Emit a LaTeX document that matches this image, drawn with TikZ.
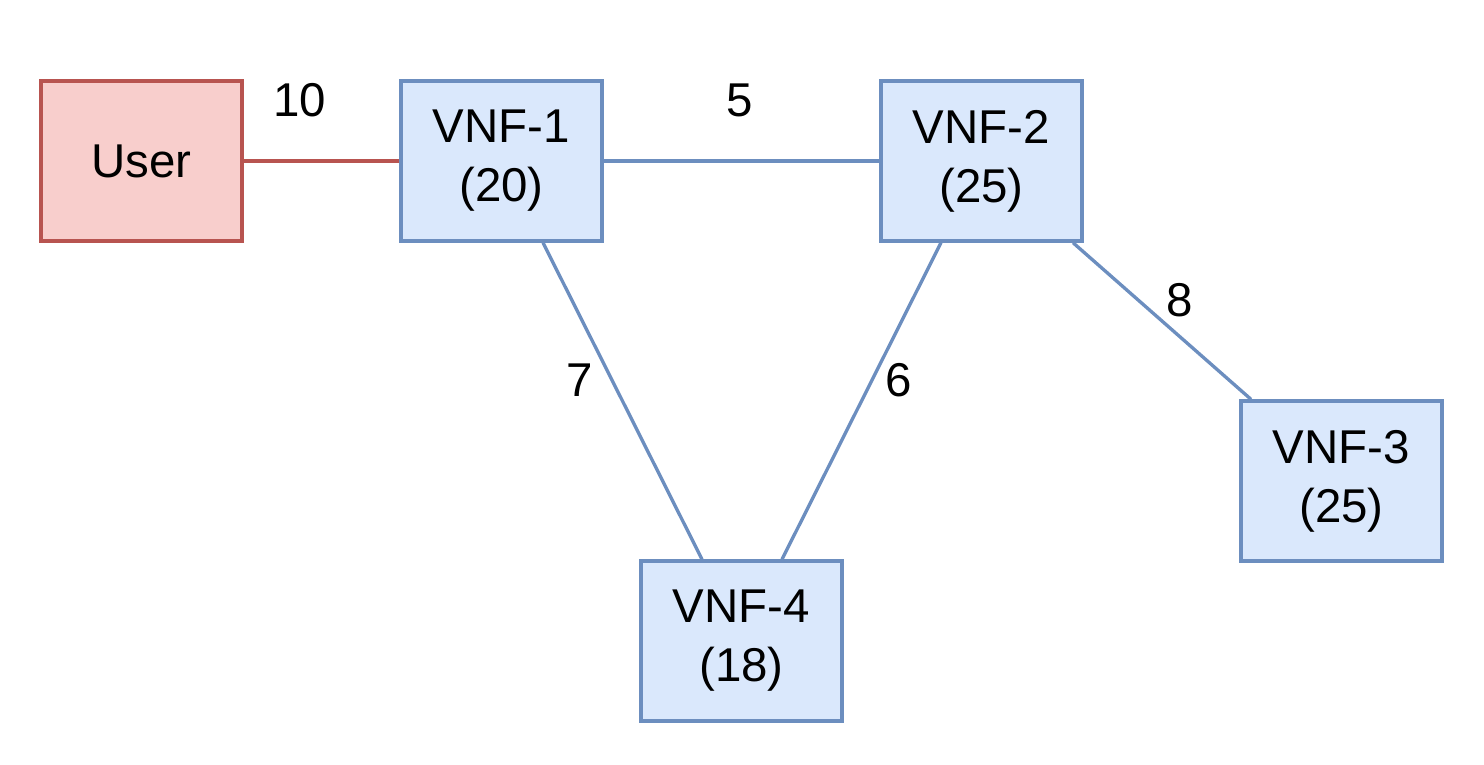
\documentclass[tikz,border=0pt]{standalone}
\usepackage{fontspec}
\setmainfont{Liberation Sans}
\usetikzlibrary{positioning}
\definecolor{vnffill}{HTML}{DAE8FC}
\definecolor{vnfline}{HTML}{6C8EBF}
\definecolor{userfill}{HTML}{F8CECC}
\definecolor{userline}{HTML}{B85450}
\tikzset{every picture/.style={line width=0.95pt}}
\tikzset{vnf/.style={draw=vnfline, fill=vnffill, minimum width=2.01cm, minimum height=1.6cm, align=center, font=\fontsize{13.5}{16.8}\selectfont}}
\tikzset{usr/.style={draw=userline, fill=userfill, minimum width=2.01cm, minimum height=1.6cm, font=\fontsize{13.5}{16.8}\selectfont}}
\tikzset{wt/.style={font=\fontsize{13.5}{16}\selectfont}}

\begin{document}
\begin{tikzpicture}
          \useasboundingbox (0,0) rectangle (14.84,-7.64);
          \node[usr] (user) at (1.415,-1.61) {User};
          \node[vnf] (v1) at (5.015,-1.61) {VNF-1\\(20)};
          \node[vnf] (v2) at (9.815,-1.61) {VNF-2\\(25)};
          \node[vnf] (v3) at (13.415,-4.81) {VNF-3\\(25)};
          \node[vnf] (v4) at (7.415,-6.41) {VNF-4\\(18)};
          \draw[userline] (user) -- (v1);
          \draw[vnfline] (v1) -- (v2);
          \draw[vnfline] ([xshift=0.415cm]v1.south) -- ([xshift=-0.395cm]v4.north);
          \draw[vnfline] ([xshift=-0.405cm]v2.south) -- ([xshift=0.405cm]v4.north);
          \draw[vnfline] ([xshift=0.915cm]v2.south) -- ([xshift=-0.905cm]v3.north);
          \node[wt] (w10) at (3.0,-1.0) {10};
          \node[wt] (w5) at (7.4,-1.0) {5};
          \node[wt] (w7) at (5.8,-3.8) {7};
          \node[wt] (w6) at (8.99,-3.8) {6};
          \node[wt] (w8) at (11.8,-3.0) {8};
        \end{tikzpicture}
\end{document}
